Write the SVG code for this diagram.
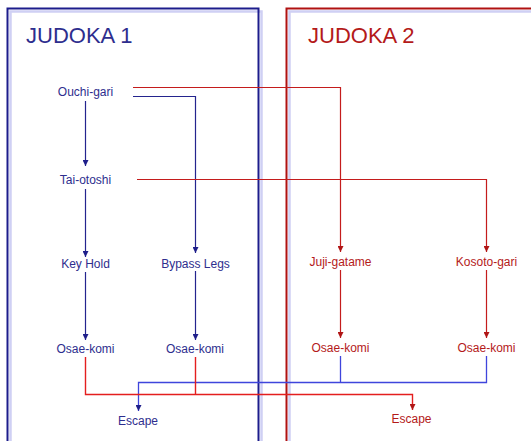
<svg xmlns="http://www.w3.org/2000/svg" width="531" height="441" viewBox="0 0 531 441">
  <style>
    .title { font-family: "Liberation Sans", Arial, sans-serif; font-size: 22px; }
    .lbl { font-family: "Liberation Sans", Arial, sans-serif; font-size: 12px; text-anchor: middle; }
    .b { fill: #2e2e8e; }
    .r { fill: #b41a1a; }
    .lb { stroke: #24248e; stroke-width: 1.2; fill: none; }
    .lb2 { stroke: #3f45dc; stroke-width: 1.3; fill: none; }
    .lr { stroke: #c41c1c; stroke-width: 1.2; fill: none; }
    .lr2 { stroke: #e41e1e; stroke-width: 1.4; fill: none; }
  </style>
  <defs>
    <marker id="arrB" viewBox="0 0 10 10" refX="10" refY="5" markerWidth="6" markerHeight="6" orient="auto" markerUnits="userSpaceOnUse">
      <path d="M0,0 L10,5 L0,10 Z" fill="#1e1e8a"/>
    </marker>
    <marker id="arrR" viewBox="0 0 10 10" refX="10" refY="5" markerWidth="6" markerHeight="6" orient="auto" markerUnits="userSpaceOnUse">
      <path d="M0,0 L10,5 L0,10 Z" fill="#b01515"/>
    </marker>
  </defs>
  <rect width="531" height="441" fill="#ffffff"/>

  <!-- player panels: soft lavender offset behind a dark outline -->
  <g id="panel-judoka-1">
    <rect x="10.5" y="11.5" width="251" height="440" fill="none" stroke="#cfd0f4" stroke-width="2.5"/>
    <rect x="7.5" y="8.5" width="251" height="440" fill="none" stroke="#1c1c8c" stroke-width="2"/>
    <text class="title b" x="26" y="43">JUDOKA 1</text>
  </g>
  <g id="panel-judoka-2">
    <rect x="289.5" y="11.5" width="260" height="440" fill="none" stroke="#cfd0f4" stroke-width="2.5"/>
    <rect x="286.5" y="8.5" width="260" height="440" fill="none" stroke="#b01212" stroke-width="2"/>
    <text class="title r" x="308" y="43">JUDOKA 2</text>
  </g>

  <!-- connectors -->
  <g id="connectors">
    <!-- Judoka 1 chain -->
    <path class="lb" d="M85.5,101 V166" marker-end="url(#arrB)"/>
    <path class="lb" d="M85.5,189 V257" marker-end="url(#arrB)"/>
    <path class="lb" d="M85.5,272 V340" marker-end="url(#arrB)"/>
    <path class="lb" d="M133,96.5 H195.5 V253" marker-end="url(#arrB)"/>
    <path class="lb" d="M195.5,271 V340" marker-end="url(#arrB)"/>
    <!-- Judoka 2 chain -->
    <path class="lr" d="M133,87.5 H340.5 V252" marker-end="url(#arrR)"/>
    <path class="lr" d="M137,179.5 H486.5 V252" marker-end="url(#arrR)"/>
    <path class="lr" d="M340.5,270 V338" marker-end="url(#arrR)"/>
    <path class="lr" d="M486.5,270 V338" marker-end="url(#arrR)"/>
    <!-- escapes -->
    <path class="lb2" d="M340.5,356 V382.5 M486.5,356 V382.5 H138.5 V411" marker-end="url(#arrB)"/>
    <path class="lr2" d="M195.5,357 V394.5 M85.5,357 V394.5 H412.5 V410" marker-end="url(#arrR)"/>
  </g>

  <!-- Judoka 1 techniques -->
  <g id="ouchi-gari"><text class="lbl b" x="85.5" y="96">Ouchi-gari</text></g>
  <g id="tai-otoshi"><text class="lbl b" x="85.5" y="184">Tai-otoshi</text></g>
  <g id="key-hold"><text class="lbl b" x="85.5" y="268">Key Hold</text></g>
  <g id="bypass-legs"><text class="lbl b" x="195.5" y="268">Bypass Legs</text></g>
  <g id="osae-komi-1a"><text class="lbl b" x="85.5" y="353">Osae-komi</text></g>
  <g id="osae-komi-1b"><text class="lbl b" x="195" y="353">Osae-komi</text></g>
  <g id="escape-1"><text class="lbl b" x="138" y="425">Escape</text></g>

  <!-- Judoka 2 techniques -->
  <g id="juji-gatame"><text class="lbl r" x="340.5" y="265.5">Juji-gatame</text></g>
  <g id="kosoto-gari"><text class="lbl r" x="486.5" y="265.5">Kosoto-gari</text></g>
  <g id="osae-komi-2a"><text class="lbl r" x="340.5" y="352">Osae-komi</text></g>
  <g id="osae-komi-2b"><text class="lbl r" x="486.5" y="352">Osae-komi</text></g>
  <g id="escape-2"><text class="lbl r" x="411.5" y="423">Escape</text></g>
</svg>
